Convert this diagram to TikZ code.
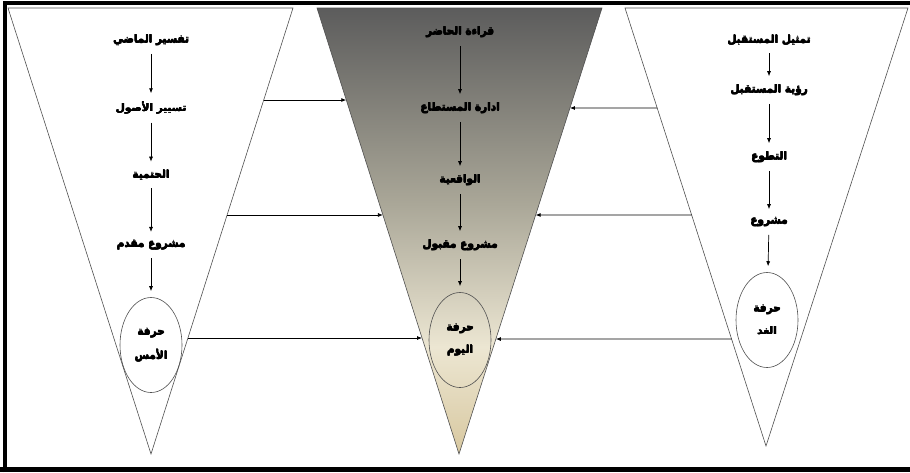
\documentclass[tikz,border=0pt]{standalone}
\usepackage{fontspec}
\usetikzlibrary{shapes.geometric,arrows.meta,calc}
\newfontfamily\arfont[Script=Arabic]{DejaVu Sans}
\TeXXeTstate=1
\newcommand{\artxt}[1]{\leavevmode\rlap{\kern0.45pt\beginR #1\endR}\rlap{\raisebox{0.35pt}{\beginR #1\endR}}\rlap{\kern0.25pt\raisebox{-0.25pt}{\beginR #1\endR}}\beginR #1\endR}
\definecolor{edgegray}{HTML}{505050}
\definecolor{shA}{HTML}{D8C8A0}
\definecolor{shB}{HTML}{ECE6D2}
\definecolor{shC}{HTML}{AAA798}
\definecolor{shD}{HTML}{5C5C5C}
\pgfdeclareverticalshading{midshade}{100bp}{color(0bp)=(shA); color(25bp)=(shA); color(37bp)=(shB); color(53bp)=(shC); color(75bp)=(shD); color(100bp)=(shD)}
\tikzset{
  lbl/.style={font=\arfont\bfseries\fontsize{10.5}{12.5}\selectfont, inner sep=2pt, text=black},
  flow/.style={-{Latex[length=5pt,width=4pt]}, line width=0.7pt, shorten <=6pt, shorten >=6pt},
  link/.style={-{Latex[length=5pt,width=4pt]}, line width=0.8pt},
  tri/.style={draw=edgegray, line width=0.6pt},
  oval/.style={ellipse, draw=edgegray, line width=0.6pt, minimum width=62pt, minimum height=95pt, inner sep=0pt, align=center, font=\arfont\bfseries\fontsize{10.5}{12.5}\selectfont}
}
\begin{document}
\begin{tikzpicture}[x=1pt,y=-1pt]
\useasboundingbox (0,0) rectangle (910,472);
\fill[white] (0,0) rectangle (910,472);
% frame
\draw[line width=4pt] (5,472) -- (5,2.5) -- (910,2.5);
\draw[line width=5pt] (0,469.5) -- (910,469.5);
% triangle vertices
\coordinate (LT1) at (8,8);   \coordinate (LT2) at (293,8);  \coordinate (LA) at (151,454);
\coordinate (MT1) at (317,8); \coordinate (MT2) at (602,8);  \coordinate (MA) at (459,454);
\coordinate (RT1) at (625,8); \coordinate (RT2) at (908,8);  \coordinate (RA) at (766,446);
% triangles
\draw[tri] (LT1) -- (LT2) -- (LA) -- cycle;
\shade[shading=midshade] (MT1) -- (MT2) -- (MA) -- cycle;
\draw[tri] (MT1) -- (MT2) -- (MA) -- cycle;
\draw[tri] (RT1) -- (RT2) -- (RA) -- cycle;
% left column
\node[lbl] (l1) at (151,40) {\artxt{تفسير الماضي}};
\node[lbl] (l2) at (151,108) {\artxt{تسيير الأصول}};
\node[lbl] (l3) at (151,175) {\artxt{الحتمية}};
\node[lbl] (l4) at (151,245) {\artxt{مشروع مقدم}};
\node[oval] (l5) at (151,345) {\artxt{حرفة}\\[10pt]\artxt{الأمس}};
\draw[flow] (l1) -- (l2);
\draw[flow] (l2) -- (l3);
\draw[flow] (l3) -- (l4);
\draw[flow] (l4) -- (l5);
% middle column
\node[lbl] (m1) at (460,32) {\artxt{قراءة الحاضر}};
\node[lbl] (m2) at (460,108) {\artxt{ادارة  المستطاع}};
\node[lbl] (m3) at (460,180) {\artxt{الواقعية}};
\node[lbl] (m4) at (460,245) {\artxt{مشروع مقبول}};
\node[oval] (m5) at (460,340) {\artxt{حرفة}\\[10pt]\artxt{اليوم}};
\draw[flow] (m1) -- (m2);
\draw[flow] (m2) -- (m3);
\draw[flow] (m3) -- (m4);
\draw[flow] (m4) -- (m5);
% right column
\node[lbl] (r1) at (769,40) {\artxt{تمثيل المستقبل}};
\node[lbl] (r2) at (769,90) {\artxt{رؤية المستقبل}};
\node[lbl] (r3) at (769,157) {\artxt{التطوع}};
\node[lbl] (r4) at (769,222) {\artxt{مشروع}};
\node[oval] (r5) at (767,320) {\artxt{حرفة}\\[10pt]\artxt{الغد}};
\draw[flow] (r1) -- (r2);
\draw[flow] (r2) -- (r3);
\draw[flow] (r3) -- (r4);
\draw[flow] (r4) -- (r5);
% links left -> middle
\coordinate (la1) at ($(LT2)!0.2063!(LA)$); \coordinate (ma1) at ($(MT1)!0.2063!(MA)$);
\coordinate (la2) at ($(LT2)!0.4641!(LA)$); \coordinate (ma2) at ($(MT1)!0.4641!(MA)$);
\coordinate (la3) at ($(LT2)!0.7399!(LA)$); \coordinate (ma3) at ($(MT1)!0.7399!(MA)$);
\draw[link] (la1) -- (ma1);
\draw[link] (la2) -- (ma2);
\draw[link] (la3) -- (ma3);
% links right -> middle
\coordinate (ra1) at ($(RT1)!0.2283!(RA)$); \coordinate (mb1) at ($(MT2)!0.2242!(MA)$);
\coordinate (ra2) at ($(RT1)!0.4726!(RA)$); \coordinate (mb2) at ($(MT2)!0.4641!(MA)$);
\coordinate (ra3) at ($(RT1)!0.7557!(RA)$); \coordinate (mb3) at ($(MT2)!0.7422!(MA)$);
\draw[link] (ra1) -- (mb1);
\draw[link] (ra2) -- (mb2);
\draw[link] (ra3) -- (mb3);
\end{tikzpicture}
\end{document}
